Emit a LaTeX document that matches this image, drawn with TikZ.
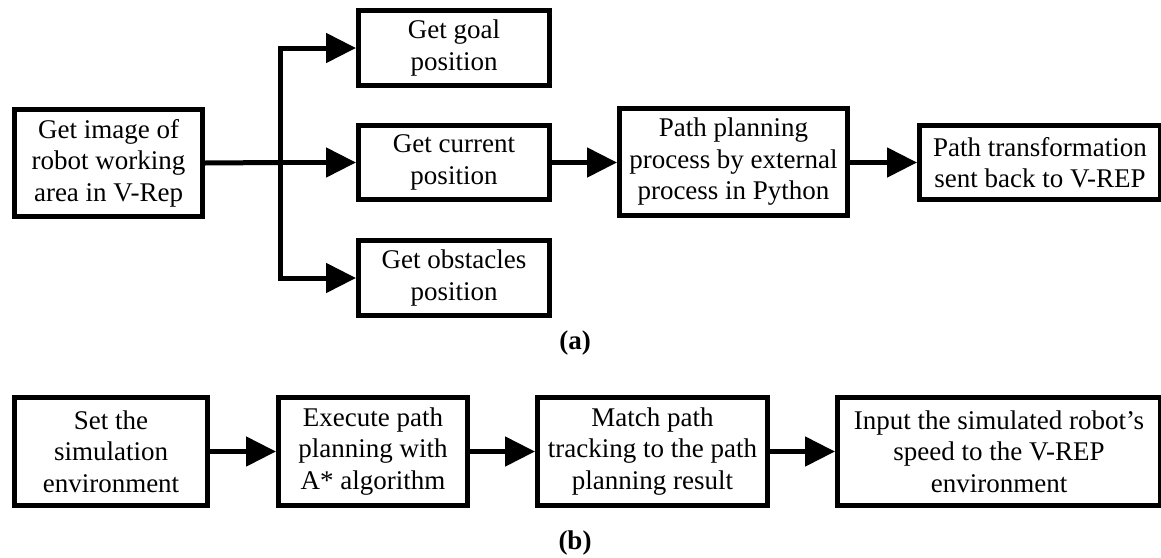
\documentclass[tikz,border=0pt]{standalone}
\usepackage{fontspec}
\setmainfont{Liberation Serif}
\usetikzlibrary{arrows.meta}

\begin{document}
\begin{tikzpicture}[x=1pt, y=-1pt,
    box/.style={draw, line width=5pt, rectangle, inner sep=0pt, align=center,
        font=\fontsize{27}{31.5}\selectfont},
    arr/.style={line width=5pt, -{Triangle[length=30pt, width=29pt]}},
    line/.style={line width=5pt}]
    \useasboundingbox (0,0) rectangle (1161,557);
    % (a)
    \node[box, minimum width=188pt, minimum height=107pt] (img) at (108.5,163) {Get image of\\robot working\\area in V-Rep};
    \node[box, minimum width=191pt, minimum height=75pt] (goal) at (454,48) {Get goal\\position};
    \node[box, minimum width=191pt, minimum height=74pt] (cur) at (454,162.5) {Get current\\position};
    \node[box, minimum width=191pt, minimum height=75pt] (obs) at (454,278) {Get obstacles\\position};
    \node[box, minimum width=228pt, minimum height=107pt] (plan) at (733.5,162) {Path planning\\process by external\\process in Python};
    \node[box, minimum width=241pt, minimum height=74pt] (trans) at (1040,162.5) {Path transformation\\sent back to V-REP};
    \coordinate (fork) at (280,162.5);
    \draw[line] (img.east) -- (fork);
    \draw[arr] (fork) -- (cur.west);
    \draw[arr] (fork) |- (goal.west);
    \draw[arr] (fork) |- (obs.west);
    \draw[arr] (cur.east) -- (plan.west |- cur.east);
    \draw[arr] (plan.east |- trans.west) -- (trans.west);
    \node[font=\fontsize{27}{31.5}\selectfont\bfseries] (la) at (575,343) {(a)};
    % (b)
    \node[box, minimum width=193pt, minimum height=108pt] (env) at (111,451.5) {Set the\\simulation\\environment};
    \node[box, minimum width=189pt, minimum height=108pt] (exe) at (373,451.5) {Execute path\\planning with\\A* algorithm};
    \node[box, minimum width=230pt, minimum height=108pt] (match) at (652.5,451.5) {Match path\\tracking to the path\\planning result};
    \node[box, minimum width=323pt, minimum height=108pt] (speed) at (999,451.5) {Input the simulated robot’s\\speed to the V-REP\\environment};
    \draw[arr] (env) -- (exe);
    \draw[arr] (exe) -- (match);
    \draw[arr] (match) -- (speed);
    \node[font=\fontsize{27}{31.5}\selectfont\bfseries] (lb) at (575,543) {(b)};
\end{tikzpicture}
\end{document}
